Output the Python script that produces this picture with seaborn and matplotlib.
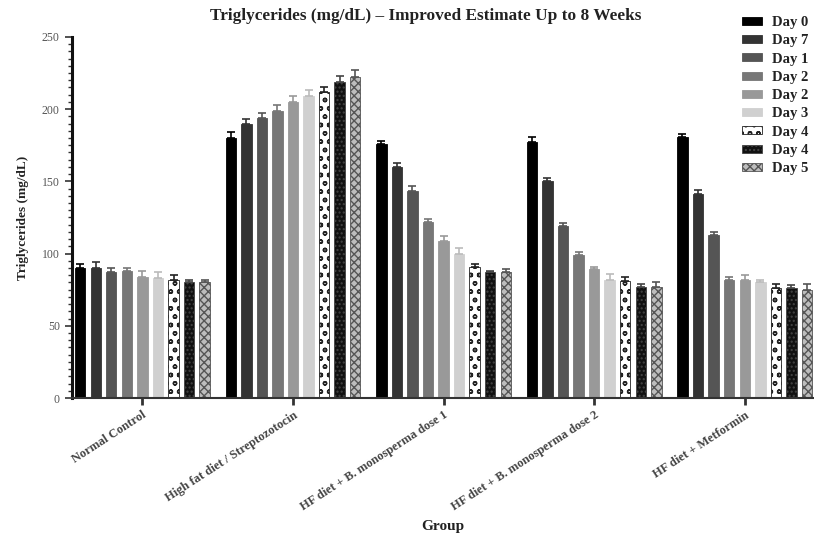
import matplotlib
matplotlib.use("Agg")
import matplotlib.pyplot as plt
import seaborn as sns
import pandas as pd
import numpy as np
from matplotlib.patches import Patch
from matplotlib.ticker import MultipleLocator

groups = ["Normal Control", "High fat diet / Streptozotocin",
          "HF diet + B. monosperma dose 1", "HF diet + B. monosperma dose 2",
          "HF diet + Metformin"]
days = ["Day 0", "Day 7", "Day 14", "Day 21", "Day 28", "Day 35", "Day 42", "Day 49", "Day 56"]
legend_labels = ["Day 0", "Day 7", "Day 1", "Day 2", "Day 2", "Day 3", "Day 4", "Day 4", "Day 5"]

normal_control = [90, 90, 87, 88, 84, 83, 82, 80, 80]
hfd_stz = [180, 190, 194, 199, 205, 209, 212, 219, 222]
dose1 = [176, 160, 143, 122, 109, 100, 91, 87, 87]
dose2 = [177, 150, 119, 99, 89, 82, 81, 77, 77]
metformin = [181, 141, 113, 82, 82, 80, 76, 76, 75]

err_normal = [3, 4, 3, 2, 4, 4, 3, 2, 2]
err_stz = [4, 3, 3, 4, 4, 4, 3, 4, 5]
err_dose1 = [2, 3, 4, 2, 3, 4, 2, 1, 2]
err_dose2 = [4, 2, 2, 2, 2, 4, 3, 2, 3]
err_met = [2, 3, 2, 2, 3, 2, 3, 2, 4]

values = [normal_control, hfd_stz, dose1, dose2, metformin]
errors = [err_normal, err_stz, err_dose1, err_dose2, err_met]

rows = []
for g, vals, errs in zip(groups, values, errors):
    for d, v, e in zip(days, vals, errs):
        rows.append({"Group": g, "Day": d, "Value": v, "Err": e})
df = pd.DataFrame(rows)

sns.set_theme(style="white")
plt.rcParams["font.family"] = ["Liberation Serif", "DejaVu Serif"]

fig = plt.figure(figsize=(8.14, 5.35), dpi=100)
ax = fig.add_axes([0.088, 0.256, 0.912, 0.675])

face = ["#000000", "#333333", "#555555", "#777777", "#999999", "#d0d0d0",
        "#ffffff", "#111111", "#bdbdbd"]
hatches = [None, None, None, None, None, None, "oo", "....", "xxxx"]
edges = ["#000000", "#333333", "#555555", "#777777", "#999999", "#d0d0d0",
         "#222222", "#444444", "#555555"]

sns.barplot(data=df, x="Group", y="Value", hue="Day", order=groups, hue_order=days,
            palette=face, width=0.93, gap=0.33, errorbar=None, ax=ax, legend=False,
            saturation=1)

bar_containers = list(ax.containers)
for i, cont in enumerate(bar_containers):
    sub = df[df["Day"] == days[i]].set_index("Group").loc[groups]
    xs = []
    for bar in cont:
        bar.set_edgecolor(edges[i])
        bar.set_linewidth(0.6)
        if hatches[i]:
            bar.set_hatch(hatches[i])
        xs.append(bar.get_x() + bar.get_width() / 2)
    ecol = face[i] if i < 6 else edges[i]
    if i == 5:
        ecol = "#bbbbbb"
    ax.errorbar(xs, sub["Value"].values, yerr=[np.zeros(len(xs)), sub["Err"].values],
                fmt="none", ecolor=ecol, elinewidth=1.2, capsize=3, capthick=1.2)

ax.set_ylim(0, 250)
ax.set_xlim(-0.47, 4.46)
ax.yaxis.set_major_locator(MultipleLocator(50))
ax.yaxis.set_minor_locator(MultipleLocator(5))
ax.tick_params(axis="y", which="major", length=5, width=1.2, direction="out",
               labelsize=8.5, left=True, colors="#333333", labelcolor="#555555")
ax.tick_params(axis="y", which="minor", length=3, width=1.0, direction="out", left=True,
               colors="#333333")
ax.tick_params(axis="x", which="major", length=5, width=2, direction="out",
               bottom=True, labelsize=9, colors="#333333", pad=3)
for s in ["top", "right"]:
    ax.spines[s].set_visible(False)
ax.spines["left"].set_linewidth(2.2)
ax.spines["left"].set_color("#111111")
ax.spines["bottom"].set_linewidth(1.5)
ax.spines["bottom"].set_color("#333333")

ax.set_xticks(range(len(groups)))
ax.set_xticklabels(groups, rotation=33, ha="right", rotation_mode="anchor",
                   fontweight="bold", color="#444444")

ax.set_xlabel("Group", fontsize=11, fontweight="bold", color="#222222")
ax.xaxis.label.set_va("center")
ax.xaxis.set_label_coords(0.5, -0.357)
ax.set_ylabel("Triglycerides (mg/dL)", fontsize=9.5, fontweight="bold", labelpad=9,
              color="#222222")

fig.text(0.523, 0.970, "Triglycerides (mg/dL) \u2013 Improved Estimate Up to 8 Weeks",
         ha="center", va="center", fontsize=12.4, fontweight="bold", color="#222222")

handles = [Patch(facecolor=face[i], edgecolor=edges[i], hatch=hatches[i] or "",
                 linewidth=0.6) for i in range(len(days))]
leg = fig.legend(handles, legend_labels, loc="upper left", bbox_to_anchor=(0.911, 0.97),
                 frameon=False, fontsize=10.5, handlelength=1.37, handleheight=0.48,
                 labelspacing=0.36, handletextpad=0.75, borderaxespad=0, borderpad=0)
for t in leg.get_texts():
    t.set_fontweight("bold")
    t.set_color("#222222")

fig.savefig("out.png", dpi=100)
